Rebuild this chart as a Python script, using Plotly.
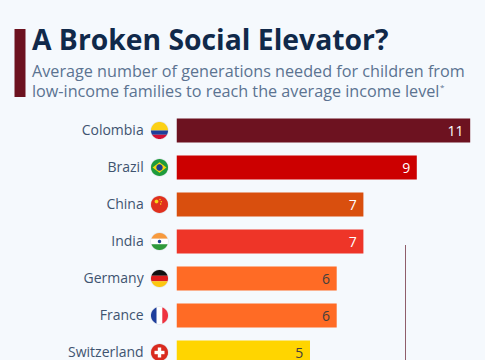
import math
import plotly.graph_objects as go

countries = ["Colombia", "Brazil", "China", "India", "Germany", "France", "Switzerland"]
generations = [11, 9, 7, 7, 6, 6, 5]
bar_colors = ["#6d1220", "#cc0000", "#d94f0e", "#ee3528", "#ff6b25", "#ff6b25", "#ffd500"]
label_colors = ["#ffffff", "#ffffff", "#ffffff", "#ffffff", "#44403c", "#44403c", "#44403c"]

BG = "#f5f9fd"
W, H = 485, 360
X0 = 176.5      # pixel of value 0
UNIT = 26.7     # pixels per generation
Y0 = 130.5      # pixel centre of first category
STEP = 37.0     # pixels per category
FLAG_X = 159.5 / W
R = 8.5


def band(a, b, vertical=False, r=R, n=14):
    """Polygon for the part of a circle between offsets a and b (pixels, a > b)."""
    pts = []
    top = math.asin(max(-1, min(1, a / r)))
    bot = math.asin(max(-1, min(1, b / r)))
    for i in range(n + 1):
        t = top + (bot - top) * i / n
        pts.append((r * math.cos(t), r * math.sin(t)))
    for i in range(n + 1):
        t = bot + (top - bot) * i / n
        pts.append((-r * math.cos(t), r * math.sin(t)))
    if vertical:
        pts = [(y, x) for x, y in pts]
    return pts


def disc(r, cx=0, cy=0, n=32):
    return [(cx + r * math.cos(2 * math.pi * i / n), cy + r * math.sin(2 * math.pi * i / n)) for i in range(n)]


def rect(x0, y0, x1, y1):
    return [(x0, y0), (x1, y0), (x1, y1), (x0, y1)]


flags = {
    "Colombia": [(band(R, 0), "#fcd116"), (band(0, -4.2), "#1f3f9c"), (band(-4.2, -R), "#d21034")],
    "Brazil": [(disc(R), "#1e9b3c"), ([(-7, 0), (0, 5.2), (7, 0), (0, -5.2)], "#f7d60f"), (disc(3.2), "#1d3f8f")],
    "China": [(disc(R), "#e0301e"), (disc(1.9, -3, 3), "#f9d616"), (disc(0.7, 0.5, 5), "#f9d616"),
              (disc(0.7, 1.8, 2.8), "#f9d616"), (disc(0.7, 1.2, 0.5), "#f9d616")],
    "India": [(band(R, 2.8), "#f79a3e"), (band(2.8, -2.8), "#ffffff"), (band(-2.8, -R), "#2f9a3a"), (disc(1.7), "#1f3f8f")],
    "Germany": [(band(R, 2.8), "#111111"), (band(2.8, -2.8), "#dd1c1c"), (band(-2.8, -R), "#fcc70f")],
    "France": [(band(-2.8, -R, True), "#1f3f9c"), (band(2.8, -2.8, True), "#ffffff"), (band(R, 2.8, True), "#ef3340")],
    "Switzerland": [(disc(R), "#d92b1f"), (rect(-5, -1.7, 5, 1.7), "#ffffff"), (rect(-1.7, -5, 1.7, 5), "#ffffff")],
}


def to_path(pts):
    return "M" + "L".join(f"{x:.2f},{y:.2f}" for x, y in pts) + "Z"


shapes = []
for i, c in enumerate(countries):
    base = dict(type="path", xref="paper", yref="y", xsizemode="pixel", ysizemode="pixel",
                xanchor=FLAG_X, yanchor=i, layer="above")
    shapes.append(dict(base, path=to_path(disc(R + 0.7)), fillcolor="#e3e7ec", line=dict(width=0)))
    for pts, col in flags[c]:
        shapes.append(dict(base, path=to_path(pts), fillcolor=col, line=dict(width=0)))

# Accent bar beside the title
shapes.append(dict(type="rect", xref="paper", yref="paper", x0=14.5 / W, x1=25.5 / W,
                   y0=1 - 97 / H, y1=1 - 29 / H, fillcolor="#6d1220", line=dict(width=0)))
# Vertical rule at the right
shapes.append(dict(type="line", xref="paper", yref="paper", x0=405.5 / W, x1=405.5 / W,
                   y0=0, y1=1 - 245 / H, line=dict(color="#8f5f6b", width=1)))


def text(s, px, py, size, color, family="Open Sans"):
    return dict(text=s, xref="paper", yref="paper", x=px / W, y=1 - py / H, xanchor="left", yanchor="middle",
                showarrow=False, align="left", font=dict(family=family, size=size, color=color))


annotations = [
    text("<b>A Broken Social Elevator?</b>", 30, 39, 28.3, "#10294a"),
    text("Average number of generations needed for children from", 30, 71.5, 16.2, "#5b7391"),
    text("low-income families to reach the average income level", 30, 91, 16.2, "#5b7391"),
    text("*", 437.5, 86, 8, "#5b7391"),
]

fig = go.Figure(go.Bar(
    y=countries, x=generations, orientation="h",
    marker=dict(color=bar_colors, line=dict(width=0)),
    text=[f"{v}\u00a0" for v in generations], textposition="inside", insidetextanchor="end",
    textangle=0, constraintext="none",
    textfont=dict(family="Open Sans", size=14, color=label_colors),
    width=24 / STEP, cliponaxis=True,
))

fig.update_layout(
    width=W, height=H, autosize=False,
    margin=dict(l=0, r=0, t=0, b=0), paper_bgcolor=BG, plot_bgcolor=BG,
    showlegend=False, shapes=shapes, annotations=annotations,
    xaxis=dict(domain=[X0 / W, 1], range=[0, (W - X0) / UNIT], visible=False, fixedrange=True),
    yaxis=dict(domain=[0, 1], type="category", categoryorder="array", categoryarray=countries,
               range=[(H - Y0) / STEP, -Y0 / STEP], showgrid=False, zeroline=False, showline=False,
               ticks="outside", ticklen=29, tickcolor="rgba(0,0,0,0)", tickwidth=0,
               tickfont=dict(family="Open Sans", size=14, color="#3f5470"), automargin=False, fixedrange=True),
)

fig.write_html("out.html", config=dict(displayModeBar=False),
               post_script="document.body.style.margin='0';document.body.style.background='#f5f9fd';")
